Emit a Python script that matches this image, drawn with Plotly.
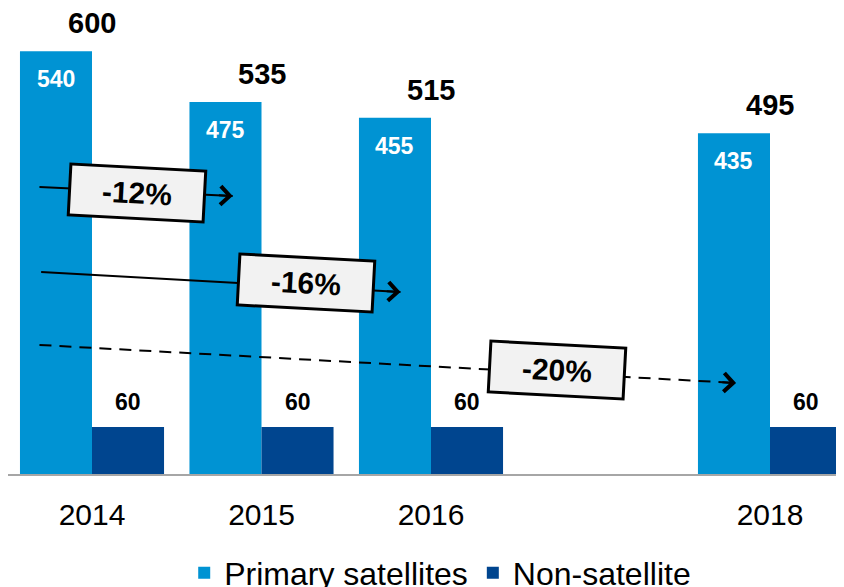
"""Satellite vs non-satellite counts, grouped bars with change arrows."""

import plotly.graph_objects as go

# data
YEARS = [2014, 2015, 2016, 2018]
YEAR_LABELS = ["2014", "2015", "2016", "2018"]
PRIMARY_SAT = [540, 475, 455, 435]
NON_SAT = [60, 60, 60, 60]
TOTALS = [600, 535, 515, 495]
CHANGE_LABELS = ["-12%", "-16%", "-20%"]

# palette
LIGHT_BLUE = "#0093d3"
DARK_BLUE = "#00458f"
AXIS_GREY = "#a6a6a6"
BOX_BG = "#f2f2f2"
FONT = "Arial, 'Liberation Sans', sans-serif"

BARGAP = 0.15
HALF_BAR = (1 - BARGAP) / 4  # offset of each bar centre from the group centre

# arrow geometry in data units: (start x, start y, tip x, tip y, box x, box y, dashed)
ARROWS = [
    (2013.69, 366.5, 2014.83, 355.0, 2014.263, 358.9, False),
    (2013.70, 258.0, 2015.82, 232.4, 2015.263, 243.9, False),
    (2013.69, 164.8, 2017.80, 116.2, 2016.743, 132.8, True),
]

fig = go.Figure()
fig.add_trace(go.Bar(x=YEARS, y=PRIMARY_SAT, name="Primary satellites",
                     marker=dict(color=LIGHT_BLUE, line=dict(width=0))))
fig.add_trace(go.Bar(x=YEARS, y=NON_SAT, name="Non-satellite",
                     marker=dict(color=DARK_BLUE, line=dict(width=0))))

annotations = []
for yr, p, n, t in zip(YEARS, PRIMARY_SAT, NON_SAT, TOTALS):
    # value inside the light bar
    annotations.append(dict(x=yr - HALF_BAR, y=p, text=str(p), showarrow=False,
                            yanchor="middle", yshift=-28,
                            font=dict(size=23, color="white", weight="bold")))
    # value above the dark bar
    annotations.append(dict(x=yr + HALF_BAR, y=n, text=str(n), showarrow=False,
                            yanchor="middle", yshift=25,
                            font=dict(size=23, color="black", weight="bold")))
    # total above the group
    annotations.append(dict(x=yr, y=p, text=str(t), showarrow=False,
                            yanchor="middle", yshift=28,
                            font=dict(size=29, color="black", weight="bold")))

shapes = []
for (sx, sy, tx, ty, bx, by, dashed), label in zip(ARROWS, CHANGE_LABELS):
    shapes.append(dict(type="line", xref="x", yref="y", x0=sx, y0=sy, x1=tx, y1=ty,
                       line=dict(color="black", width=2,
                                 dash="12px,8px" if dashed else "solid")))
    back = 0.09
    frac = back / (tx - sx)
    annotations.append(dict(x=tx, y=ty, ax=tx - back, ay=ty + (sy - ty) * frac,
                            axref="x", ayref="y", text="", showarrow=True,
                            arrowhead=4, arrowsize=1.8, arrowwidth=2,
                            arrowcolor="black"))
    annotations.append(dict(x=bx, y=by, text=label, showarrow=False,
                            textangle=3, bgcolor=BOX_BG, bordercolor="black",
                            borderwidth=3, borderpad=4, width=124, height=40,
                            font=dict(size=30, color="black", weight="bold")))

fig.update_xaxes(range=[2013.5044, 2018.4366], tickvals=YEARS, ticktext=YEAR_LABELS,
                 showgrid=False, zeroline=False, showline=True, linecolor=AXIS_GREY,
                 linewidth=2, ticks="", ticklabelstandoff=13,
                 tickfont=dict(size=30, color="black"))
fig.update_yaxes(range=[0, 595.1], visible=False, showgrid=False, zeroline=False)

fig.update_layout(
    width=836,
    height=579,
    barmode="group",
    bargap=BARGAP,
    bargroupgap=0,
    paper_bgcolor="white",
    plot_bgcolor="white",
    font=dict(family=FONT, color="black"),
    margin=dict(l=0, r=0, t=0, b=113, autoexpand=False),
    showlegend=True,
    legend=dict(orientation="h", x=0.517, xanchor="center", y=-0.2124, yanchor="middle",
                font=dict(size=32, color="black"), itemwidth=30,
                bgcolor="rgba(0,0,0,0)"),
    shapes=shapes,
    annotations=annotations,
)

fig.write_html("out.html")
